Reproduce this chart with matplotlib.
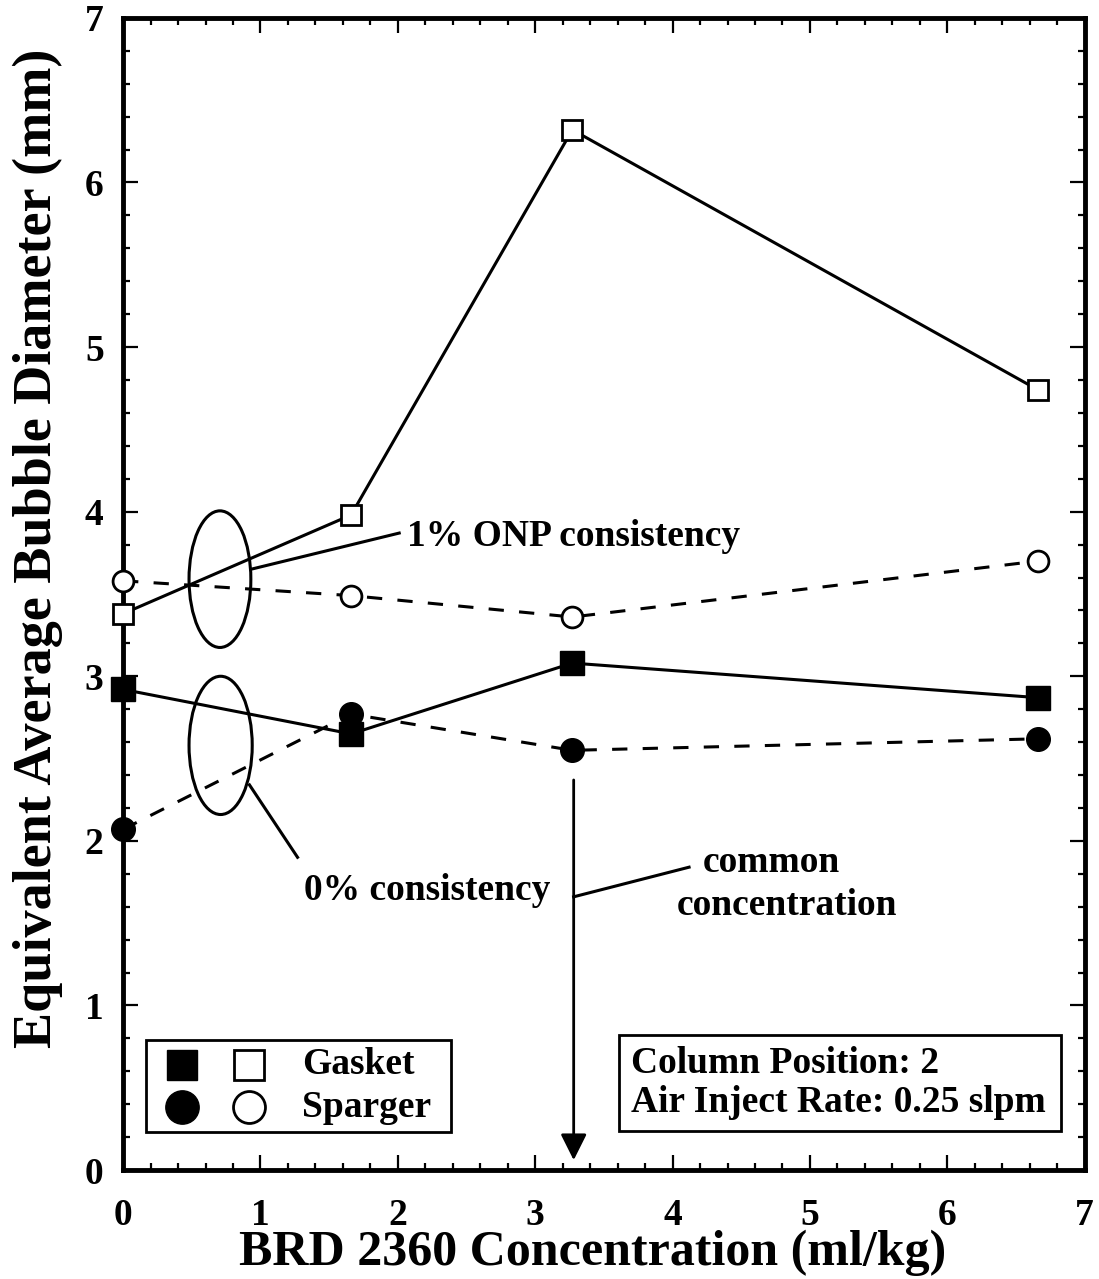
import matplotlib
matplotlib.use("Agg")
import matplotlib.pyplot as plt
from matplotlib.patches import Ellipse, Rectangle
from matplotlib.ticker import MultipleLocator

plt.rcParams['font.family'] = ['Liberation Serif', 'DejaVu Serif']
plt.rcParams['font.weight'] = 'bold'
plt.rcParams['axes.labelweight'] = 'bold'

#%% Data ######################################################################
conc = [0.0, 1.66, 3.27, 6.66]

gasket_1pct = [3.38, 3.98, 6.32, 4.74]
sparger_1pct = [3.58, 3.49, 3.36, 3.70]
gasket_0pct = [2.92, 2.65, 3.08, 2.87]
sparger_0pct = [2.07, 2.77, 2.55, 2.62]

common_conc = 3.28

#%% Plot ######################################################################
fig = plt.figure(figsize=(10.99, 12.79), dpi=100)
ax = fig.add_axes([0.112, 0.0852, 0.875, 0.9008])

lw = 2.2
fs = 27
ax.plot(conc, gasket_1pct, '-', c='k', lw=lw, marker='s', ms=15,
        mfc='white', mec='k', mew=2, clip_on=False, zorder=4)
ax.plot(conc, sparger_1pct, '--', c='k', lw=lw, dashes=(5, 5), marker='o',
        ms=15, mfc='white', mec='k', mew=2, clip_on=False, zorder=4)
ax.plot(conc, gasket_0pct, '-', c='k', lw=lw, marker='s', ms=17,
        mfc='k', mec='k', clip_on=False, zorder=4)
ax.plot(conc, sparger_0pct, '--', c='k', lw=lw, dashes=(5, 5), marker='o',
        ms=17, mfc='k', mec='k', clip_on=False, zorder=3)

# ellipses grouping the two consistencies
ax.add_patch(Ellipse((0.705, 3.59), 0.45, 0.83, fill=False, ec='k', lw=2.2,
                     zorder=5))
ax.add_patch(Ellipse((0.71, 2.58), 0.46, 0.84, fill=False, ec='k', lw=2.2,
                     zorder=5))

ax.plot([0.93, 2.01], [3.65, 3.87], c='k', lw=lw)
ax.text(2.07, 3.85, '1% ONP consistency', fontsize=fs, va='center',
        ha='left')
ax.plot([0.92, 1.27], [2.34, 1.90], c='k', lw=lw)
ax.text(1.32, 1.70, '0% consistency', fontsize=fs, va='center', ha='left')

# common concentration arrow
ax.annotate('', xy=(common_conc, 0.06), xytext=(common_conc, 2.37),
            arrowprops=dict(arrowstyle='-|>', color='k', lw=2,
                            mutation_scale=40, shrinkA=0, shrinkB=0))
ax.plot([common_conc, 4.12], [1.66, 1.84], c='k', lw=lw)
ax.text(4.72, 1.87, 'common', fontsize=fs, va='center', ha='center')
ax.text(4.83, 1.61, 'concentration', fontsize=fs, va='center', ha='center')

# legend box
ax.add_patch(Rectangle((0.17, 0.23), 2.22, 0.56, fill=False, ec='k', lw=2))
ax.plot([0.43], [0.64], 's', ms=22, mfc='k', mec='k')
ax.plot([0.92], [0.64], 's', ms=22, mfc='white', mec='k', mew=2)
ax.plot([0.43], [0.38], 'o', ms=24, mfc='k', mec='k')
ax.plot([0.92], [0.38], 'o', ms=23, mfc='white', mec='k', mew=2)
ax.text(1.30, 0.64, 'Gasket', fontsize=fs, va='center', ha='left')
ax.text(1.30, 0.38, 'Sparger', fontsize=fs, va='center', ha='left')

# conditions box
ax.add_patch(Rectangle((3.61, 0.24), 3.22, 0.58, fill=False, ec='k', lw=2))
ax.text(3.70, 0.65, 'Column Position: 2', fontsize=fs, va='center',
        ha='left')
ax.text(3.70, 0.41, 'Air Inject Rate: 0.25 slpm', fontsize=fs,
        va='center', ha='left')

ax.set_xlim(0, 7)
ax.set_ylim(0, 7)
ax.xaxis.set_major_locator(MultipleLocator(1))
ax.xaxis.set_minor_locator(MultipleLocator(0.2))
ax.yaxis.set_major_locator(MultipleLocator(1))
ax.yaxis.set_minor_locator(MultipleLocator(0.2))
ax.tick_params(which='both', direction='in', top=True, right=True,
               labelsize=fs, width=1.6)
ax.tick_params(which='major', length=11)
ax.tick_params(axis='x', which='major', pad=20)
ax.tick_params(axis='y', which='major', pad=14)
ax.tick_params(which='minor', length=5)
for s in ax.spines.values():
    s.set_linewidth(3.5)

ax.set_xlabel('BRD 2360 Concentration (ml/kg)', fontsize=36, labelpad=-2)
ax.xaxis.label.set_x(0.488)
ax.set_ylabel('Equivalent Average Bubble Diameter (mm)', fontsize=39)
ax.yaxis.set_label_coords(-0.062, 0.54)

plt.savefig('out.png', dpi=100)
